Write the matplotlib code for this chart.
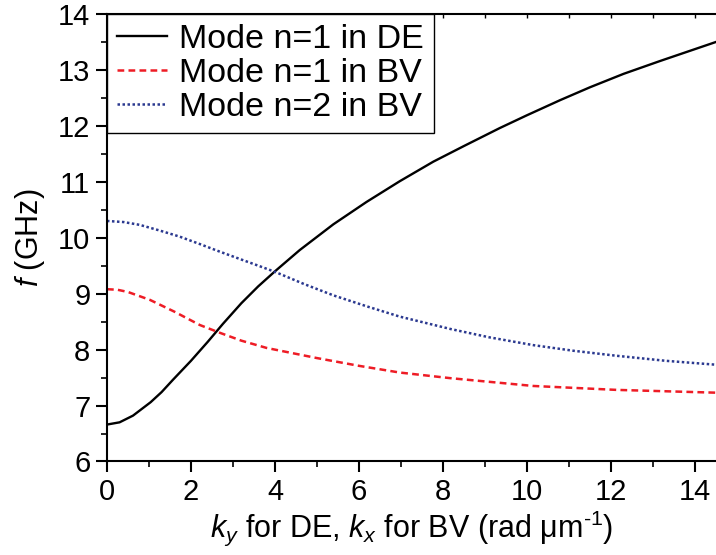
import matplotlib
matplotlib.use("Agg")
import matplotlib.pyplot as plt
from matplotlib.ticker import MultipleLocator

plt.rcParams["font.family"] = ["Liberation Sans", "DejaVu Sans"]
plt.rcParams["mathtext.fontset"] = "custom"
plt.rcParams["mathtext.rm"] = "Liberation Sans"
plt.rcParams["mathtext.it"] = "Liberation Sans:italic"

# Modo n=1 em DE
k_de = [0.0, 0.3, 0.62, 1.04, 1.3, 1.57, 2.0, 2.4, 2.76, 3.2, 3.6, 4.0, 4.59, 5.39,
        6.18, 6.97, 7.77, 8.5, 9.35, 10.0, 10.79, 11.5, 12.3, 13.17, 14.5]
f_de = [6.66, 6.70, 6.82, 7.06, 7.24, 7.46, 7.80, 8.14, 8.46, 8.83, 9.13, 9.40, 9.78,
        10.24, 10.64, 11.01, 11.36, 11.64, 11.96, 12.19, 12.46, 12.69, 12.93, 13.16,
        13.50]

# Modo n=1 em BV
k_bv1 = [0.0, 0.25, 0.5, 1.02, 1.6, 2.21, 2.69, 3.2, 3.8, 4.99, 6.0, 6.97, 8.17,
         10.15, 12.13, 14.5]
f_bv1 = [9.08, 9.07, 9.03, 8.89, 8.68, 8.44, 8.30, 8.16, 8.03, 7.85, 7.71, 7.59, 7.49,
         7.35, 7.28, 7.23]

# Modo n=2 em BV
k_bv2 = [0.0, 0.4, 0.78, 1.25, 1.73, 2.2, 2.69, 3.2, 3.64, 4.0, 4.7, 5.39, 6.2, 6.97,
         8.17, 9.1, 10.15, 11.1, 12.13, 13.3, 14.5]
f_bv2 = [10.30, 10.28, 10.23, 10.13, 10.02, 9.89, 9.75, 9.61, 9.49, 9.39, 9.17, 8.97,
         8.77, 8.59, 8.37, 8.22, 8.08, 7.98, 7.89, 7.80, 7.73]

fig = plt.figure(figsize=(7.16, 5.55), dpi=100)
ax = fig.add_axes([0.1494, 0.1685, 0.8506, 0.8063])

ax.plot(k_de, f_de, color="black", linewidth=1.7, label="Mode n=1 in DE")
ax.plot(k_bv1, f_bv1, color="#ee1c25", linewidth=1.8, linestyle=(0, (2.7, 1.7)),
        label="Mode n=1 in BV")
ax.plot(k_bv2, f_bv2, color="#2b3990", linewidth=1.8, linestyle=(0, (1, 1)),
        label="Mode n=2 in BV")

ax.set_xlim(0, 14.5)
ax.set_ylim(6, 14)
ax.xaxis.set_major_locator(MultipleLocator(2))
ax.xaxis.set_minor_locator(MultipleLocator(1))
ax.yaxis.set_major_locator(MultipleLocator(1))
ax.yaxis.set_minor_locator(MultipleLocator(0.5))

for s in ["left", "bottom", "top"]:
    ax.spines[s].set_linewidth(1.5)
ax.spines["right"].set_visible(False)

ax.tick_params(axis="both", which="major", direction="out", length=8, width=1.5,
               labelsize=21, pad=4)
ax.tick_params(axis="both", which="minor", direction="out", length=4, width=1.2)
ax.tick_params(axis="x", which="both", top=False)

# Ticks internos no eixo superior
top = ax.secondary_xaxis("top")
top.xaxis.set_major_locator(MultipleLocator(1))
top.tick_params(direction="in", length=3, width=1.0, labeltop=False)
top.spines["top"].set_visible(False)

ax.set_xlabel(r"$k_y$ for DE, $k_x$ for BV (rad μm$^{\text{-}1}$)", fontsize=22,
              labelpad=2)
ax.set_ylabel(r"$f$ (GHz)", fontsize=22, labelpad=8)

leg = ax.legend(loc="upper left", bbox_to_anchor=(0, 1), borderaxespad=0,
                fontsize=24.5, frameon=True, fancybox=False, framealpha=1,
                edgecolor="black", handlelength=1.45, handletextpad=0.38,
                labelspacing=0.08, borderpad=0.3)
leg.get_frame().set_linewidth(1.0)

fig.savefig("out.png", dpi=100)
